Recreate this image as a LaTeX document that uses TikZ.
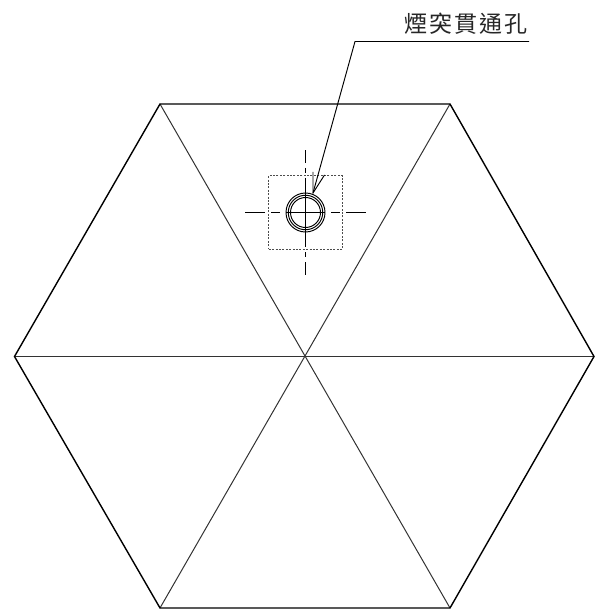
\documentclass[tikz,border=0pt]{standalone}
\usepackage{fontspec}
\newfontfamily\cjkfont{Noto Sans CJK TC}[Scale=1]
\tikzset{
  outline/.style={line width=1.4pt,black,line join=miter},
  spoke/.style={line width=1pt,black!80},
  thin line/.style={line width=0.95pt,black},
  ring/.style={line width=0.95pt,black,draw,circle,inner sep=0pt},
  plate/.style={line width=1pt,black!70,dash pattern=on 2pt off 1.4pt},
  label/.style={font=\cjkfont\fontsize{23}{24}\selectfont,inner sep=0pt,text=black!85}
}
\begin{document}
\begin{tikzpicture}[x=1pt,y=-1pt]
\useasboundingbox (0,0) rectangle (595,612);
\coordinate (L) at (14.5,356.5);
\coordinate (R) at (594,356.5);
\coordinate (TL) at (160,104);
\coordinate (TR) at (450,104);
\coordinate (BL) at (160,608);
\coordinate (BR) at (450,608);
\draw[spoke] (L) -- (R);
\draw[spoke] (TL) -- (BR);
\draw[spoke] (TR) -- (BL);
\draw[outline] (L) -- (TL) -- (TR) -- (R) -- (BR) -- (BL) -- cycle;
\coordinate (C) at (305.5,212.5);
\node[plate,draw,minimum width=73.5pt,minimum height=73.5pt,inner sep=0pt] (sq) at (C) {};
\node[ring,minimum size=39pt] (r1) at (C) {};
\node[ring,minimum size=34.5pt] (r2) at (C) {};
\node[ring,minimum size=30pt] (r3) at (C) {};
\coordinate (HW) at (245,212.5);
\coordinate (HE) at (366,212.5);
\coordinate (VN) at (305.5,150.5);
\coordinate (VS) at (305.5,275);
\draw[thin line] (HW) -- (265,212.5) (271,212.5) -- (280,212.5) (286,212.5) -- (325,212.5) (331,212.5) -- (340,212.5) (346,212.5) -- (HE);
\draw[thin line] (VN) -- (305.5,163) (305.5,168) -- (305.5,173) (305.5,178) -- (305.5,247) (305.5,252) -- (305.5,257) (305.5,262) -- (VS);
\coordinate (LE) at (529,41.5);
\coordinate (LK) at (355,41.5);
\coordinate (LT) at (313,193);
\draw[thin line] (LE) -- (LK) -- (LT);
\coordinate (B1) at (313,172);
\coordinate (B2) at (324.5,175);
\draw[thin line] (B1) -- (LT) -- (B2);
\node[label,anchor=base] (t) at (466,33) {煙\hspace{2.2pt}突\hspace{2.2pt}貫\hspace{2.2pt}通\hspace{2.2pt}孔};
\end{tikzpicture}
\end{document}
